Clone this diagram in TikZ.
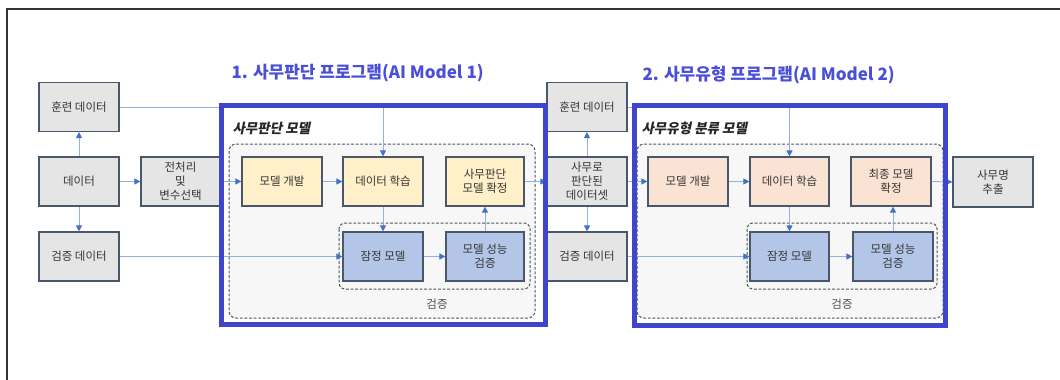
\documentclass[tikz,border=0pt]{standalone}
\usepackage{fontspec}
\setmainfont{Noto Sans CJK KR}
\newfontfamily\kslant[FakeSlant=0.2]{Noto Sans CJK KR}
\usetikzlibrary{arrows.meta}
\definecolor{framecol}{HTML}{333333}
\definecolor{bigblue}{HTML}{3F46CC}
\definecolor{titleblue}{HTML}{4A4FD9}
\definecolor{edgecol}{HTML}{4A566A}
\definecolor{grayfill}{HTML}{E5E5E5}
\definecolor{yelfill}{HTML}{FFF0C9}
\definecolor{orfill}{HTML}{FBE3D4}
\definecolor{bluefill}{HTML}{B3C6E7}
\definecolor{contfill}{HTML}{F7F7F7}
\definecolor{linecol}{HTML}{93B0E0}
\definecolor{tipcol}{HTML}{4472C4}
\definecolor{txtcol}{HTML}{333333}
\tikzset{
  box/.style={draw=edgecol, line width=1.2pt, minimum width=80pt, minimum height=49pt,
    inner sep=1pt, align=center, text=txtcol, font=\fontsize{11.5}{14}\selectfont},
  gbox/.style={box, fill=grayfill},
  ybox/.style={box, fill=yelfill},
  obox/.style={box, fill=orfill},
  bbox/.style={box, fill=bluefill},
  cont/.style={draw=edgecol, dashed, dash pattern=on 2.8pt off 1.8pt, line width=1pt, rounded corners=7pt, fill=contfill},
  inner/.style={draw=edgecol, dashed, dash pattern=on 2.8pt off 1.8pt, line width=1pt, rounded corners=6pt},
  conn/.style={draw=linecol, line width=0.9pt, -{Triangle[length=6pt,width=6pt,color=tipcol]}},
  bigframe/.style={draw=bigblue, line width=5pt},
  titletext/.style={anchor=west, text=titleblue, font=\fontsize{17}{20}\selectfont\bfseries},
  subtext/.style={anchor=west, text=black!85, font=\fontsize{13.5}{16}\kslant\bfseries},
  lbl/.style={text=txtcol!85, font=\fontsize{11.5}{14}\selectfont}
}
\begin{document}
\begin{tikzpicture}[x=1pt,y=-1pt]
\useasboundingbox (0,0) rectangle (1060,380);
\fill[white] (0,0) rectangle (1060,380);
\draw[framecol, line width=2pt] (1060,9) -- (7,9) -- (7,380);

% containers
\draw[cont] (229,144) rectangle (535,318);
\draw[inner] (339,223) rectangle (530,289);
\draw[cont] (637,144) rectangle (943,318);
\draw[inner] (747,223) rectangle (937,289);

% section 1 nodes
\node[gbox] (tr1) at (79,107) {훈련 데이터};
\node[gbox] (d1) at (79,181.5) {데이터};
\node[gbox] (vd1) at (79,256.5) {검증 데이터};
\node[gbox, minimum width=79pt] (pre) at (180.5,181.5) {전처리\\및\\변수선택};
\node[ybox] (md1) at (282,181.5) {모델 개발};
\node[ybox] (dl1) at (383,181.5) {데이터 학습};
\node[ybox, minimum width=78pt] (fx1) at (485,181.5) {사무판단\\모델 확정};
\node[bbox] (tm1) at (383,256.5) {잠정 모델};
\node[bbox, minimum width=78pt] (pv1) at (485,256.5) {모델 성능\\검증};
\node[lbl] (g1) at (437,304) {검증};

% section 2 nodes
\node[gbox] (tr2) at (587,107) {훈련 데이터};
\node[gbox] (ds2) at (587,181.5) {사무로\\판단된\\데이터셋};
\node[gbox] (vd2) at (587,256.5) {검증 데이터};
\node[obox] (md2) at (688,181.5) {모델 개발};
\node[obox, minimum width=79pt] (dl2) at (789.5,181.5) {데이터 학습};
\node[obox] (fx2) at (891,181.5) {최종 모델\\확정};
\node[bbox, minimum width=79pt] (tm2) at (789.5,256.5) {잠정 모델};
\node[bbox] (pv2) at (893,256.5) {모델 성능\\검증};
\node[lbl] (g2) at (842,304) {검증};
\node[gbox, minimum height=50pt] (ex) at (993,182) {사무명\\추출};

% connectors section 1
\draw[conn] (tr1.east) -| (dl1.north);
\draw[conn] (d1.north) -- (tr1.south);
\draw[conn] (d1.south) -- (vd1.north);
\draw[conn] (d1.east) -- (pre.west);
\draw[conn] (pre.east) -- (md1.west);
\draw[conn] (vd1.east) -- (tm1.west);
\draw[conn] (md1.east) -- (dl1.west);
\draw[conn] (dl1.south) -- (tm1.north);
\draw[conn] (tm1.east) -- (pv1.west);
\draw[conn] (pv1.north) -- (fx1.south);
\draw[conn] (fx1.east) -- (ds2.west);

% connectors section 2
\draw[conn] (tr2.east) -| (dl2.north);
\draw[conn] (ds2.north) -- (tr2.south);
\draw[conn] (ds2.south) -- (vd2.north);
\draw[conn] (ds2.east) -- (md2.west);
\draw[conn] (vd2.east) -- (tm2.west);
\draw[conn] (md2.east) -- (dl2.west);
\draw[conn] (dl2.south) -- (tm2.north);
\draw[conn] (tm2.east) -- (pv2.west);
\draw[conn] (pv2.north) -- (pv2.north |- fx2.south);
\draw[conn] (fx2.east) -- (ex.west);

% big frames
\draw[bigframe] (221.5,105.5) rectangle (545.5,324.5);
\draw[bigframe] (634.5,105.5) rectangle (945.5,325.5);

% titles
\node[titletext] (t1) at (228,73) {1. 사무판단 프로그램(AI Model 1)};
\node[titletext] (t2) at (639,75) {2. 사무유형 프로그램(AI Model 2)};
\node[subtext] (s1) at (229,128) {사무판단 모델};
\node[subtext] (s2) at (638,128) {사무유형 분류 모델};
\end{tikzpicture}
\end{document}
